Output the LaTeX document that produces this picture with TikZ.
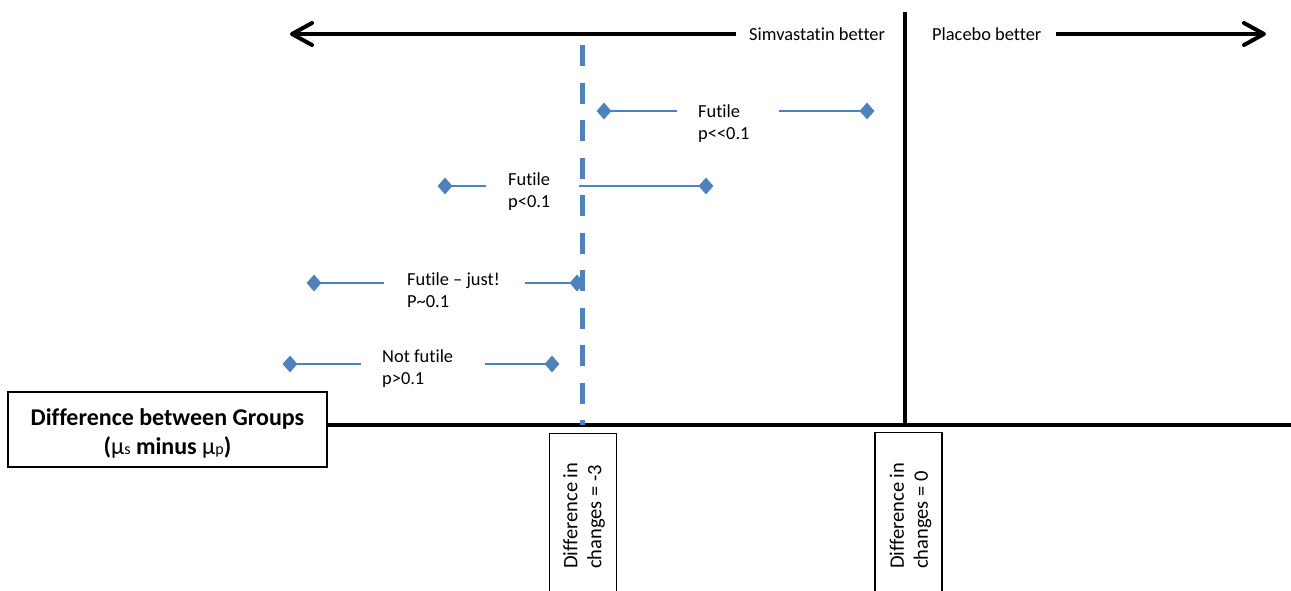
\documentclass[tikz,border=0pt]{standalone}
\usepackage{fontspec}
\setmainfont{Carlito}[Ligatures=CommonOff]
\usetikzlibrary{shapes.geometric,arrows.meta}
\definecolor{ciblue}{HTML}{4F81BD}
\pgfdeclarelayer{bg}
\pgfsetlayers{bg,main}
\begin{document}
\begin{tikzpicture}[x=1pt,y=-1pt,
  lbl/.style={font=\fontsize{18.4}{22}\selectfont, inner sep=0, align=left},
  rlbl/.style={font=\fontsize{20.5}{24}\selectfont, inner sep=0, align=left, rotate=90, anchor=west},
  dia/.style={diamond, fill=ciblue, inner sep=0, minimum width=15, minimum height=17},
  ci/.style={ciblue, line width=2},
  axisline/.style={line width=4, black},
  bigarrow/.style={line width=4, -{Straight Barb[length=20pt,width=22pt,round]}},
  cbox/.style={draw, line width=1.2, minimum width=67, minimum height=180, anchor=north, inner sep=0},
  dashref/.style={ciblue, line width=5, dash pattern=on 21pt off 16.5pt}
]
\useasboundingbox (0,0) rectangle (1291,590);
\clip (0,0) rectangle (1291,590);

% top labels and arrows
\node[lbl, anchor=base west] (simv) at (749,40) {Simvastatin better};
\node[lbl, anchor=base west] (plac) at (932,40) {Placebo better};
\coordinate (ltip) at (290,34);
\coordinate (rtip) at (1266,34);
\draw[bigarrow] (simv.west |- ltip) ++(-13,0) coordinate (lstart) -- (ltip);
\draw[bigarrow] (plac.east |- rtip) ++(14,0) coordinate (rstart) -- (rtip);

% zero line
\coordinate (ztop) at (905,12);
\coordinate (zbot) at (905,425);
\draw[axisline] (ztop) -- (zbot);

% header box and axis
\node[draw, line width=1.3, minimum width=319, minimum height=75, inner sep=0] (hdr) at (167.5,429.5) {};
\node[align=center, inner sep=0, anchor=base, font=\fontsize{24}{29}\selectfont\bfseries] (hdrt) at (167.5,454)
  {Difference between Groups\\({\mdseries μ{\fontsize{16}{18}\selectfont s}} minus {\mdseries μ{\fontsize{16}{18}\selectfont p}})};
\coordinate (axR) at (1291,425);
\draw[axisline] (hdr.east |- axR) -- (axR);

% dashed reference line at -3
\coordinate (dtop) at (582,45);
\coordinate (dbot) at (582,425);
\draw[dashref] (dtop) -- (dbot);

% bottom value boxes
\node[cbox] (c3) at (583,433) {};
\node[rlbl] (c3t) at (584,569) {Difference in\\changes = -3};
\node[cbox] (c0) at (908.5,432) {};
\node[rlbl] (c0t) at (910.5,569) {Difference in\\changes = 0};

% row 1
\node[dia] (d1a) at (604,111) {};
\node[dia] (d1b) at (867,111) {};
\node[lbl, anchor=base west] (t1) at (698,139) {Futile\\p<{}<0.1};
\coordinate (e1a) at (677,111);
\coordinate (e1b) at (779,111);
% row 2
\node[dia] (d2a) at (445,186) {};
\node[dia] (d2b) at (706,186) {};
\node[lbl, anchor=base west] (t2) at (508,207) {Futile\\p<0.1};
\coordinate (e2a) at (486,186);
\coordinate (e2b) at (579,186);
% row 3
\node[dia] (d3a) at (314,283) {};
\node[dia] (d3b) at (577,283) {};
\node[lbl, anchor=base west] (t3) at (407,307) {Futile – just!\\P{\char`\~}0.1};
\coordinate (e3a) at (384,283);
\coordinate (e3b) at (525,283);
% row 4
\node[dia] (d4a) at (290,364) {};
\node[dia] (d4b) at (552,364) {};
\node[lbl, anchor=base west] (t4) at (382,384) {Not futile\\p>0.1};
\coordinate (e4a) at (361,364);
\coordinate (e4b) at (485,364);

\begin{pgfonlayer}{bg}
\draw[ci] (d1a.center) -- (e1a);
\draw[ci] (e1b) -- (d1b.center);
\draw[ci] (d2a.center) -- (e2a);
\draw[ci] (e2b) -- (d2b.center);
\draw[ci] (d3a.center) -- (e3a);
\draw[ci] (e3b) -- (d3b.center);
\draw[ci] (d4a.center) -- (e4a);
\draw[ci] (e4b) -- (d4b.center);
\end{pgfonlayer}
\end{tikzpicture}
\end{document}
